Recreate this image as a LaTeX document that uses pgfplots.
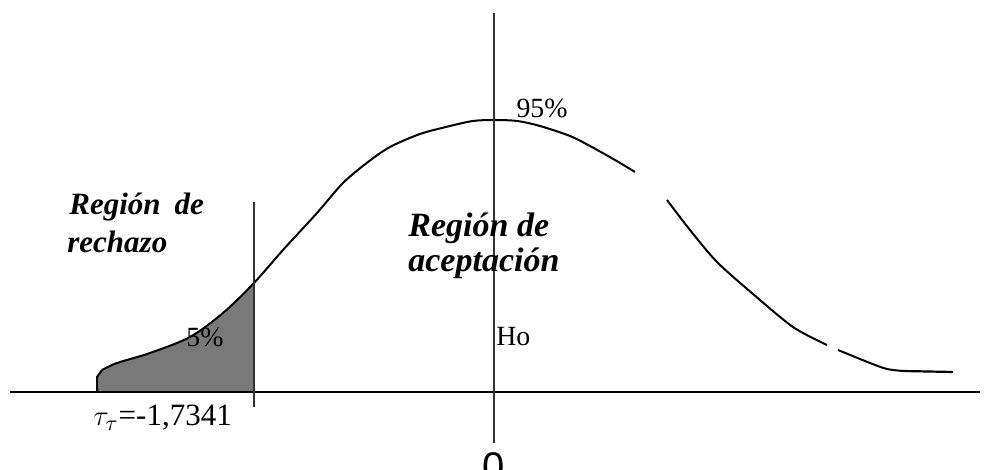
\documentclass[border=0pt]{standalone}
\usepackage{fontspec}
\setmainfont{Liberation Serif}
\newfontfamily\zerofont{Liberation Sans}
\usepackage{pgfplots}
\pgfplotsset{compat=1.18}

\begin{document}
\begin{tikzpicture}
\begin{axis}[
  name=ax,
  width=496.5pt, height=235pt, scale only axis,
  xmin=0, xmax=993, ymin=0, ymax=470,
  hide axis, clip=false,
]
% shaded rejection tail
\addplot[fill=gray!95!black, draw=none] coordinates {
  (97,78) (97,93) (102,100) (117,107) (133,112) (150,117) (170,124) (190,133)
  (207,144) (223,157) (240,173) (254,187) (254,78)
};
% small step at the start of the tail
\addplot[black, line width=1pt] coordinates {(97,78) (97,93) (102,100)};
% density curve (with the breaks seen in the original scan)
\addplot[black, line width=1pt, smooth, tension=0.5] coordinates {
  (102,100) (117,107) (150,117) (190,133) (223,157) (254,187)
  (283,220) (317,257) (343,287) (368,308) (390,323) (420,336) (450,344) (473,349)
  (494,350) (517,349) (540,344) (570,334) (590,324) (615,310) (635,298)
};
\addplot[black, line width=1pt, smooth, tension=0.5] coordinates {
  (667,270) (690,240) (717,208) (753,176) (793,143) (827,125)
};
\addplot[black, line width=1pt, smooth, tension=0.5] coordinates {
  (838,120) (870,107) (887,101) (903,99)
};
\addplot[black, line width=1.1pt] coordinates {(903,99) (953,98)};
% horizontal axis
\addplot[black, line width=1.3pt] coordinates {(10,78) (980,78)};
% vertical line at 0
\addplot[black!80, line width=0.8pt] coordinates {(494,457) (494,27)};
% critical value line
\addplot[black!80, line width=0.8pt] coordinates {(254,268) (254,63)};

\node[font=\fontsize{13.9}{16}\selectfont] at (axis cs:542,362) {95\%};
\node[font=\fontsize{13.9}{16}\selectfont] at (axis cs:205,133) {5\%};
\node[font=\fontsize{13.9}{16}\selectfont, anchor=west, inner sep=0pt] at (axis cs:496,133) {Ho};
\node[font=\fontsize{15.5}{17}\selectfont, anchor=west, inner sep=0pt] at (axis cs:93,52) {$\tau_\tau$=-1,7341};

\node[font=\bfseries\itshape\fontsize{15.5}{18}\selectfont, anchor=west, inner sep=0pt] at (axis cs:69,263) {Región\hspace{0.45em}de};
\node[font=\bfseries\itshape\fontsize{15.5}{18}\selectfont, anchor=west, inner sep=0pt] at (axis cs:67,228) {rechazo};
\node[font=\bfseries\itshape\fontsize{17}{20}\selectfont, anchor=west, inner sep=0pt] at (axis cs:408,242) {Región de};
\node[font=\bfseries\itshape\fontsize{17}{20}\selectfont, anchor=west, inner sep=0pt] at (axis cs:408,207) {aceptación};

\node[font=\zerofont\fontsize{20}{24}\selectfont, anchor=base, inner sep=0pt] at (axis cs:494,-11) {0};
\end{axis}
\pgfresetboundingbox
\useasboundingbox (ax.south west) rectangle (ax.north east);
\end{tikzpicture}
\end{document}
